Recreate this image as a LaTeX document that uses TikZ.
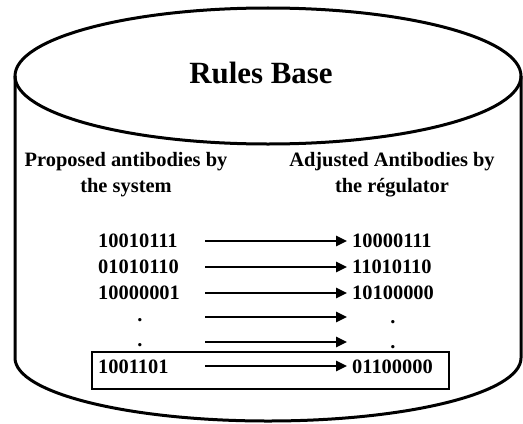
\documentclass[tikz,border=0pt]{standalone}
\usepackage{fontspec}
\setmainfont{Liberation Serif}
\usetikzlibrary{positioning,arrows.meta}

\begin{document}
\begin{tikzpicture}[
  x=1bp, y=1bp,
  db line/.style={line width=3bp},
  title node/.style={
    inner sep=0pt,
    font=\fontsize{31}{36}\selectfont\bfseries,
  },
  head node/.style={
    inner sep=0pt,
    align=center,
    font=\fontsize{20.5}{26}\selectfont\bfseries,
  },
  bits node/.style={
    inner sep=0pt,
    font=\fontsize{20.5}{24}\selectfont\bfseries,
  },
  map arrow/.style={line width=2.5bp, -{Triangle[length=11bp,width=10bp]}},
  ]
  \useasboundingbox (0,0) rectangle (523,423);

  % the can
  \draw[db line] (268,347) ellipse [x radius=253, y radius=68];
  \draw[db line] (15,347) -- (15,65)
    arc [start angle=180, end angle=360, x radius=253, y radius=63] -- (521,347);

  \node[title node, anchor=base] (rules-base) at (261,340) {Rules Base};

  \node[head node, anchor=base] (proposed-head) at (126,231) {Proposed antibodies by\\the system};
  \node[head node, anchor=base] (adjusted-head) at (392,231) {Adjusted Antibodies by\\the régulator};

  \node[bits node, anchor=base west] (proposed-1) at (98,175.5) {10010111};
  \node[bits node, anchor=base west] (proposed-2) at (98,149.5) {01010110};
  \node[bits node, anchor=base west] (proposed-3) at (98,123.5) {10000001};
  \node[bits node, anchor=base] (proposed-4) at (140,101.5) {.};
  \node[bits node, anchor=base] (proposed-5) at (140,76.5) {.};
  \node[bits node, anchor=base west] (proposed-6) at (98,49.5) {1001101};

  \node[bits node, anchor=base west] (adjusted-1) at (352,175.5) {10000111};
  \node[bits node, anchor=base west] (adjusted-2) at (352,149.5) {11010110};
  \node[bits node, anchor=base west] (adjusted-3) at (352,123.5) {10100000};
  \node[bits node, anchor=base] (adjusted-4) at (393,99.5) {.};
  \node[bits node, anchor=base] (adjusted-5) at (393,74.5) {.};
  \node[bits node, anchor=base west] (adjusted-6) at (352,49.5) {01100000};

  \foreach \i/\y in {1/182,2/156,3/130,4/106,5/81,6/57} {
    \coordinate (from-\i) at (205,\y);
    \coordinate (to-\i) at (347,\y);
    \draw[map arrow] (from-\i) -- (to-\i);
  }

  % last pair is boxed
  \draw[line width=2.5bp] (92,34) rectangle (449,71);
\end{tikzpicture}
\end{document}
